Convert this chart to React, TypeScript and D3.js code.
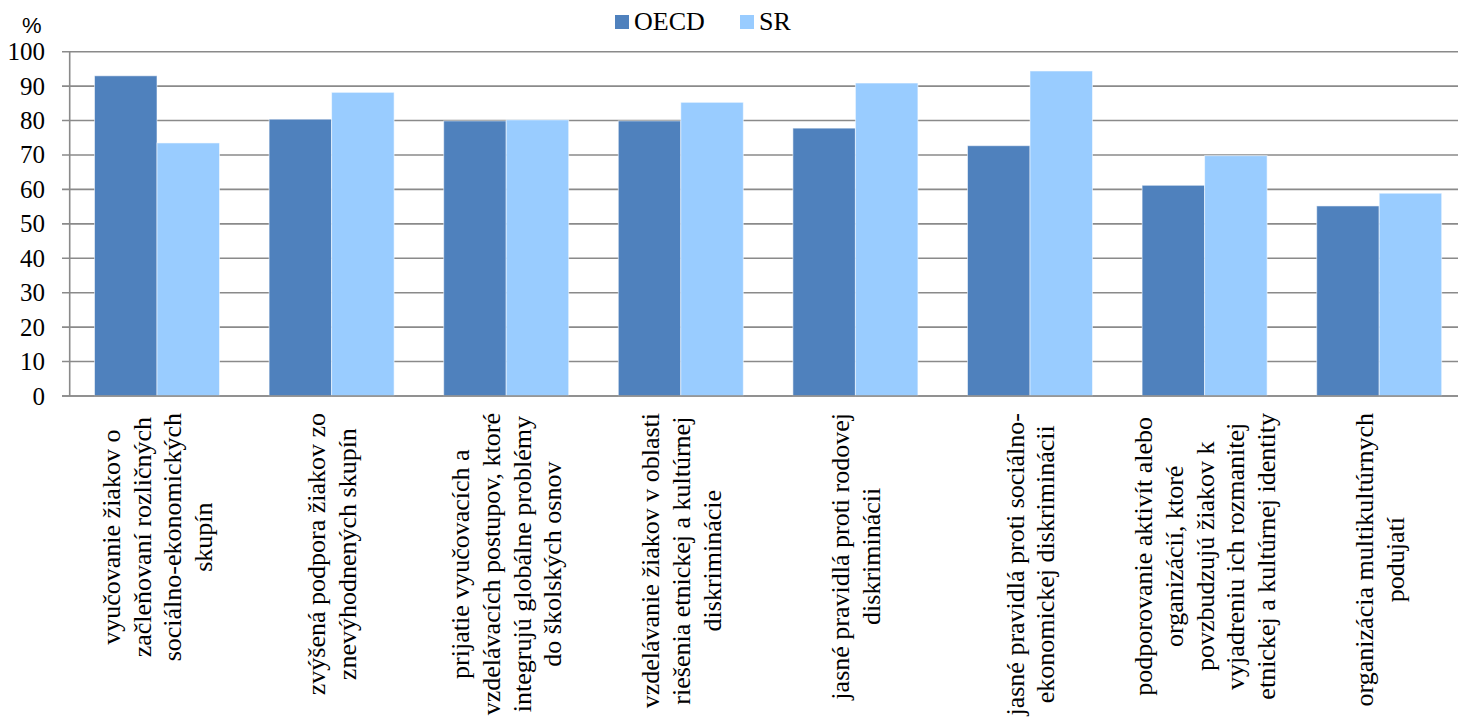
import React from "react";
import * as d3 from "d3";

const categories: string[] = [
  "vyučovanie žiakov o\nzačleňovaní rozličných\nsociálno-ekonomických\nskupín",
  "zvýšená podpora žiakov zo\nznevýhodnených skupín",
  "prijatie vyučovacích a\nvzdelávacích postupov, ktoré\nintegrujú globálne problémy\ndo školských osnov",
  "vzdelávanie žiakov v oblasti\nriešenia etnickej a kultúrnej\ndiskriminácie",
  "jasné pravidlá proti rodovej\ndiskriminácii",
  "jasné pravidlá proti sociálno-\nekonomickej diskriminácii",
  "podporovanie aktivít alebo\norganizácií, ktoré\npovzbudzujú žiakov k\nvyjadreniu ich rozmanitej\netnickej a kultúrnej identity",
  "organizácia multikultúrnych\npodujatí",
];

const seriesNames: string[] = ["OECD", "SR"];
const oecdValues: number[] = [93.0, 80.4, 79.9, 79.9, 77.8, 72.7, 61.2, 55.2];
const srValues: number[] = [73.5, 88.2, 80.2, 85.3, 90.9, 94.4, 69.8, 58.9];
const yTicks: number[] = [0, 10, 20, 30, 40, 50, 60, 70, 80, 90, 100];

const colors: Record<string, string> = { OECD: "#4F81BD", SR: "#99CCFF" };

const W = 1458;
const H = 724;
const plotLeft = 69.7;
const plotRight = 1466.5;
const plotTop = 51.7;
const plotBottom = 396;

const serif = "Liberation Serif, Tinos, Times New Roman, DejaVu Serif, serif";
const labelFontSize = 26;
const lineH = 30.8;

function measure(text: string, font: string): number {
  const c = document.createElement("canvas");
  const ctx = c.getContext("2d");
  if (!ctx) return text.length * 10;
  ctx.font = font;
  return ctx.measureText(text).width;
}

export default function App() {
  const x = d3
    .scaleBand<string>()
    .domain(categories)
    .range([plotLeft, plotRight])
    .paddingInner(0.284)
    .paddingOuter(0.142);
  const xs = d3.scaleBand<string>().domain(seriesNames).range([0, x.bandwidth()]);
  const y = d3.scaleLinear().domain([0, 100]).range([plotBottom, plotTop]);

  const values: Record<string, number[]> = { OECD: oecdValues, SR: srValues };
  const labelTop = 413;
  const serifStyle = { fontFamily: serif };

  return (
    <svg
      width={W}
      height={H}
      style={{ position: "absolute", left: 0, top: 0, background: "#fff" }}
    >
      {yTicks.map((t) => (
        <line
          key={"g" + t}
          x1={62}
          x2={W}
          y1={y(t)}
          y2={y(t)}
          stroke="#8a8a8a"
          strokeWidth={1.6}
        />
      ))}
      <line x1={plotLeft} x2={plotLeft} y1={plotTop} y2={plotBottom} stroke="#8a8a8a" strokeWidth={1.6} />
      {yTicks.map((t) => (
        <text
          key={"t" + t}
          x={45}
          y={y(t)}
          dy="0.34em"
          textAnchor="end"
          style={serifStyle}
          fontSize={25}
          fill="#000"
        >
          {t}
        </text>
      ))}
      {categories.map((c, i) => (
        <g key={"c" + i} transform={`translate(${x(c)},0)`}>
          {seriesNames.map((s) => (
            <rect
              key={s}
              x={xs(s)}
              y={y(values[s][i])}
              width={xs.bandwidth()}
              height={plotBottom - y(values[s][i])}
              fill={colors[s]}
              stroke="#ffffff"
              strokeOpacity={0.55}
              strokeWidth={1}
            />
          ))}
        </g>
      ))}
      <line x1={62} x2={W} y1={plotBottom} y2={plotBottom} stroke="#8a8a8a" strokeWidth={1.6} />
      {categories.map((c, i) => {
        const lines = c.split("\n");
        const font = `${labelFontSize}px "Liberation Serif", serif`;
        const maxLen = Math.max(...lines.map((l) => measure(l, font)));
        const cx = (x(c) as number) + x.bandwidth() / 2;
        const n = lines.length;
        return (
          <text
            key={"l" + i}
            transform={`translate(${cx},${labelTop}) rotate(-90)`}
            style={serifStyle}
            fontSize={labelFontSize}
            fill="#000"
            textAnchor="middle"
          >
            {lines.map((l, j) => (
              <tspan key={j} x={-maxLen / 2} y={(j - (n - 1) / 2) * lineH + 9}>
                {l}
              </tspan>
            ))}
          </text>
        );
      })}
      <text x={22} y={33} style={{ fontFamily: "Liberation Sans, Arial, sans-serif" }} fontSize={22} fill="#000">
        %
      </text>
      {seriesNames.map((s, i) => {
        const lx = i === 0 ? 615 : 740;
        return (
          <g key={"lg" + s}>
            <rect x={lx} y={15} width={14} height={14} fill={colors[s]} />
            <text x={lx + 19} y={30} style={serifStyle} fontSize={26} fill="#000">
              {s}
            </text>
          </g>
        );
      })}
    </svg>
  );
}
